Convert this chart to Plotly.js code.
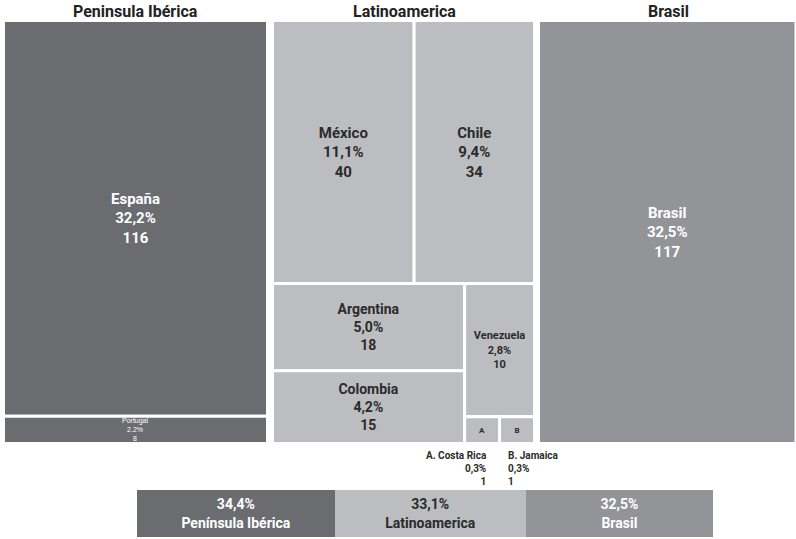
<!DOCTYPE html>
<html>
<head>
<meta charset="utf-8">
<script src="https://cdn.plot.ly/plotly-3.0.1.min.js"></script>
<style>html,body{margin:0;padding:0;background:#fff;}#chart{width:796px;height:539px;}</style>
</head>
<body>
<div id="chart"></div>
<script>
// ---- data ----
const groupNames = ['Peninsula Ibérica', 'Latinoamerica', 'Brasil'];
const groupBarNames = ['Península Ibérica', 'Latinoamerica', 'Brasil'];
const groupPctText = ['34,4%', '33,1%', '32,5%'];
const groupPct = [34.4, 33.1, 32.5];

const ibLabels = ['España', 'Portugal'];
const ibValues = [116, 8];
const ibPct = ['32,2%', '2.2%'];

const latLabels = ['México', 'Chile', 'Argentina', 'Colombia', 'Venezuela', 'A. Costa Rica', 'B. Jamaica'];
const latValues = [40, 34, 18, 15, 10, 1, 1];
const latPct = ['11,1%', '9,4%', '5,0%', '4,2%', '2,8%', '0,3%', '0,3%'];

const brLabels = ['Brasil'];
const brValues = [117];
const brPct = ['32,5%'];

// ---- styling ----
const W = 796, H = 539;
const colors = ['#6b6c70', '#bcbdc1', '#939498'];
const textColors = ['#ffffff', '#2b2b2b', '#ffffff'];
const FONT = 'Roboto, "DejaVu Sans", sans-serif';
const FULL = '%{label}<br>%{customdata}<br>%{value}';
const px = v => v / W;
const py = v => 1 - v / H;

function tm(labels, values, pct, color, tcolor, x0, x1, sizes, templates) {
  return {
    type: 'treemap',
    labels: labels,
    parents: labels.map(() => ''),
    values: values,
    customdata: pct,
    sort: false,
    texttemplate: templates || labels.map(() => FULL),
    textposition: 'middle center',
    textfont: {
      size: sizes,
      color: labels.map(() => tcolor),
      family: FONT,
      weight: 'bold'
    },
    marker: {
      colors: labels.map(() => color),
      line: {color: '#ffffff', width: 3},
      pad: {t: 0, l: 0, r: 0, b: 0}
    },
    tiling: {squarifyratio: 1.618, pad: 0},
    pathbar: {visible: false},
    root: {color: 'rgba(0,0,0,0)'},
    hoverinfo: 'none',
    domain: {x: [px(x0), Math.min(1, px(x1))], y: [py(443.5), py(20.5)]}
  };
}

const traces = [
  // Portugal's label is drawn as an annotation (small, unshrunk text)
  tm(ibLabels, ibValues, ibPct, colors[0], textColors[0], 3.5, 267.5, [15, 8], [FULL, ' ']),
  tm(latLabels, latValues, latPct, colors[1], textColors[1], 272.5, 534.5,
     [15, 15, 14, 14, 11, 8, 8],
     latLabels.map((l, i) => i >= 5 ? l.split('.')[0] : FULL)),
  tm(brLabels, brValues, brPct, colors[2], textColors[2], 538.5, 797.5, [15])
];

// bottom stacked bar
groupPct.forEach((v, i) => {
  traces.push({
    type: 'bar',
    orientation: 'h',
    x: [v],
    y: ['total'],
    text: [groupPctText[i] + '<br>' + groupBarNames[i]],
    textposition: 'inside',
    insidetextanchor: 'middle',
    textangle: 0,
    insidetextfont: {size: 14, color: textColors[i], family: FONT, weight: 'bold'},
    marker: {color: colors[i], line: {width: 0}},
    hoverinfo: 'none',
    showlegend: false,
    xaxis: 'x',
    yaxis: 'y'
  });
});

const groupCenters = [135, 404, 668];
const annotations = groupNames.map((g, i) => ({
  text: '<b>' + g + '</b>',
  x: px(groupCenters[i]), y: py(12),
  xref: 'paper', yref: 'paper',
  xanchor: 'center', yanchor: 'middle',
  showarrow: false,
  font: {size: 16, color: '#222222', family: FONT}
}));

annotations.push({
  text: ibLabels[1] + '<br>' + ibPct[1] + '<br>' + ibValues[1],
  x: px(135), y: py(429.5), xref: 'paper', yref: 'paper',
  xanchor: 'center', yanchor: 'middle', align: 'center', showarrow: false,
  font: {size: 7, color: '#ffffff', family: 'Arial, "Liberation Sans", sans-serif'}
});

annotations.push({
  text: '<b>' + latLabels[5] + '<br>' + latPct[5] + '<br>' + latValues[5] + '</b>',
  x: px(489), y: py(448), xref: 'paper', yref: 'paper',
  xanchor: 'right', yanchor: 'top', align: 'right', showarrow: false,
  font: {size: 10, color: '#2b2b2b', family: FONT}
});
annotations.push({
  text: '<b>' + latLabels[6] + '<br>' + latPct[6] + '<br>' + latValues[6] + '</b>',
  x: px(506), y: py(448), xref: 'paper', yref: 'paper',
  xanchor: 'left', yanchor: 'top', align: 'left', showarrow: false,
  font: {size: 10, color: '#2b2b2b', family: FONT}
});

const layout = {
  width: W, height: H,
  margin: {l: 0, r: 0, t: 0, b: 0},
  paper_bgcolor: '#ffffff',
  plot_bgcolor: '#ffffff',
  showlegend: false,
  barmode: 'stack',
  bargap: 0,
  xaxis: {domain: [px(137), px(713)], range: [0, 100], visible: false, fixedrange: true},
  yaxis: {domain: [py(537), py(490)], visible: false, fixedrange: true},
  annotations: annotations,
  font: {family: FONT}
};

Plotly.newPlot('chart', traces, layout, {displayModeBar: false, staticPlot: true});
</script>
</body>
</html>
